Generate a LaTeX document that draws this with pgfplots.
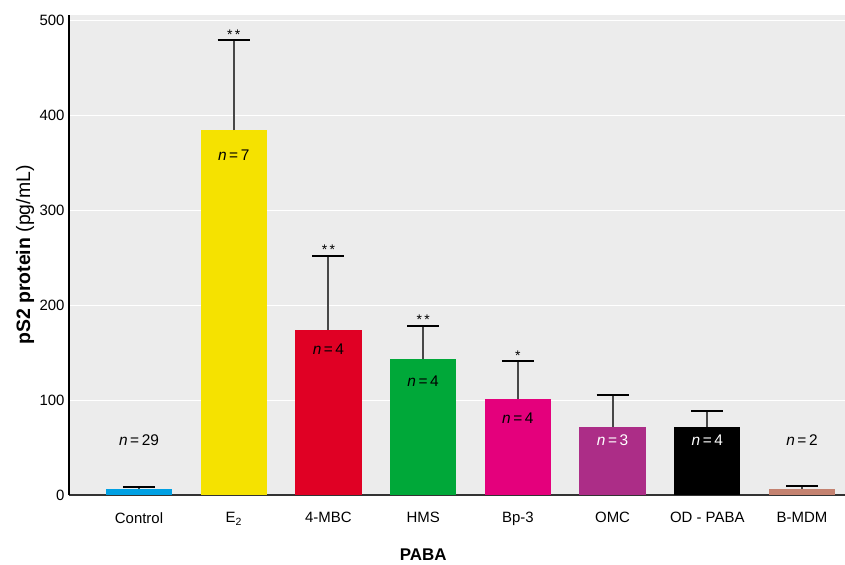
\documentclass[border=0pt]{standalone}
\usepackage{fontspec}
\setmainfont{Liberation Sans}
\usepackage{pgfplots}
\pgfplotsset{compat=1.18}
\definecolor{bgc}{RGB}{236,236,236}
\definecolor{c0}{RGB}{0,160,227}
\definecolor{c1}{RGB}{245,226,0}
\definecolor{c2}{RGB}{224,0,36}
\definecolor{c3}{RGB}{0,168,57}
\definecolor{c4}{RGB}{228,0,124}
\definecolor{c5}{RGB}{172,45,135}
\definecolor{c6}{RGB}{0,0,0}
\definecolor{c7}{RGB}{196,130,112}
\pgfplotsset{
  mybar/.style={fill=#1, draw=none, bar shift=0pt,
    error bars/.cd, y dir=plus, y explicit,
    error bar style={black!72, line width=2bp},
    error mark options={rotate=90, mark size=16bp, line width=2bp, black}},
}
\begin{document}
\begin{tikzpicture}
\begin{axis}[
  scale only axis, width=776bp, height=480bp,
  xmin=-0.739, xmax=7.454, ymin=0, ymax=505.3,
  ybar, bar width=0.7,
  axis background/.style={fill=bgc},
  axis x line*=bottom, axis y line*=left,
  axis line style={-},
  x axis line style={black!80, line width=1.8bp},
  y axis line style={black, line width=1.4bp},
  ymajorgrids, grid style={white, line width=1bp},
  ytick={0,100,200,300,400,500},
  xtick={0,1,2,3,4,5,6,7},
  xticklabels={Control,E\textsubscript{2},4-MBC,HMS,Bp-3,OMC,OD - PABA,B-MDM},
  major tick length=0pt,
  tick label style={font=\fontsize{15}{17}\selectfont},
  /pgf/number format/assume math mode=true,
  yticklabel style={xshift=-1bp},
  xticklabel style={yshift=-14bp},
  ylabel={{\bfseries pS2 protein} (pg/mL)},
  ylabel style={font=\fontsize{19.5}{21}\selectfont, at={(axis description cs:-0.0567,0.5)}, anchor=center},
  clip=false,
]
\addplot[mybar=c0] coordinates {(0,6.3) +- (0,1.7)};
\addplot[mybar=c1] coordinates {(1,384) +- (0,95)};
\addplot[mybar=c2] coordinates {(2,174) +- (0,78)};
\addplot[mybar=c3] coordinates {(3,143) +- (0,34.5)};
\addplot[mybar=c4] coordinates {(4,101) +- (0,40)};
\addplot[mybar=c5] coordinates {(5,71.6) +- (0,33.4)};
\addplot[mybar=c6] coordinates {(6,71.6) +- (0,17.1)};
\addplot[mybar=c7] coordinates {(7,6.3) +- (0,3.7)};
\begin{scope}[every node/.style={font=\fontsize{15.5}{17}\selectfont, anchor=center}]
\node at (axis cs:0,58) {\textit{n}\,=\,29};
\node at (axis cs:1,358) {\textit{n}\,=\,7};
\node at (axis cs:2,153) {\textit{n}\,=\,4};
\node at (axis cs:3,120) {\textit{n}\,=\,4};
\node at (axis cs:4,81) {\textit{n}\,=\,4};
\node[text=white] at (axis cs:5,58) {\textit{n}\,=\,3};
\node[text=white] at (axis cs:6,58) {\textit{n}\,=\,4};
\node at (axis cs:7,58) {\textit{n}\,=\,2};
\end{scope}
\begin{scope}[every node/.style={font=\fontsize{14}{16}\selectfont, anchor=base, inner sep=0pt}]
\node at (axis cs:1,480) {*\,*};
\node at (axis cs:2,253) {*\,*};
\node at (axis cs:3,179) {*\,*};
\node at (axis cs:4,142) {*};
\end{scope}
\node[font=\bfseries\fontsize{17}{19}\selectfont] at (axis cs:3,-63) {PABA};
\coordinate (bl) at (rel axis cs:0,0);
\coordinate (tr) at (rel axis cs:1,1);
\end{axis}
\pgfresetboundingbox
\path[use as bounding box] ([shift={(-69bp,-70bp)}]bl) rectangle ([shift={(0bp,15bp)}]tr);
\end{tikzpicture}
\end{document}
